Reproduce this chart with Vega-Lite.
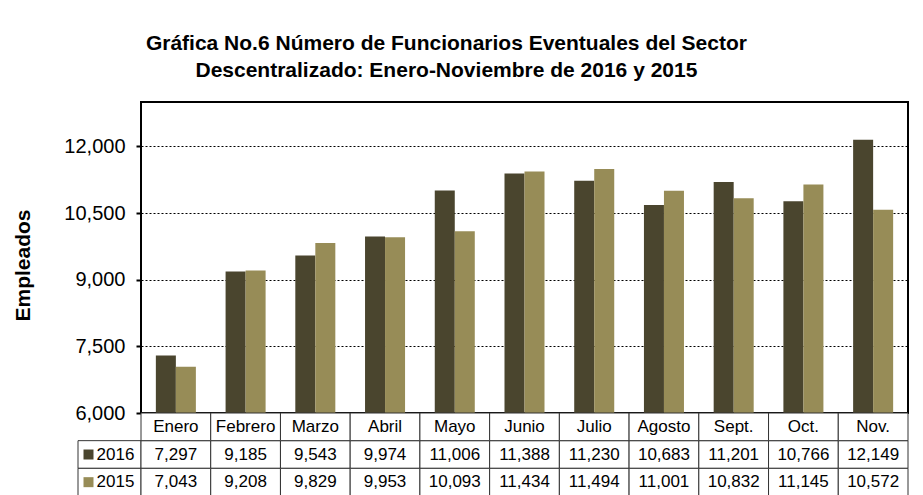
{
  "$schema": "https://vega.github.io/schema/vega-lite/v6.json",
  "padding": {"left": 11, "top": 33, "right": 14, "bottom": 0},
  "background": "white",
  "title": {
    "text": ["Gráfica No.6 Número de Funcionarios Eventuales del Sector", "Descentralizado: Enero-Noviembre de 2016 y 2015"],
    "fontSize": 21, "font": "Liberation Sans", "fontWeight": "bold", "lineHeight": 27,
    "anchor": "middle", "dx": -14, "offset": 20, "color": "black"
  },
  "datasets": {
    "d": [
      {"mes": "Enero", "anio": "2016", "valor": 7297},
      {"mes": "Febrero", "anio": "2016", "valor": 9185},
      {"mes": "Marzo", "anio": "2016", "valor": 9543},
      {"mes": "Abril", "anio": "2016", "valor": 9974},
      {"mes": "Mayo", "anio": "2016", "valor": 11006},
      {"mes": "Junio", "anio": "2016", "valor": 11388},
      {"mes": "Julio", "anio": "2016", "valor": 11230},
      {"mes": "Agosto", "anio": "2016", "valor": 10683},
      {"mes": "Sept.", "anio": "2016", "valor": 11201},
      {"mes": "Oct.", "anio": "2016", "valor": 10766},
      {"mes": "Nov.", "anio": "2016", "valor": 12149},
      {"mes": "Enero", "anio": "2015", "valor": 7043},
      {"mes": "Febrero", "anio": "2015", "valor": 9208},
      {"mes": "Marzo", "anio": "2015", "valor": 9829},
      {"mes": "Abril", "anio": "2015", "valor": 9953},
      {"mes": "Mayo", "anio": "2015", "valor": 10093},
      {"mes": "Junio", "anio": "2015", "valor": 11434},
      {"mes": "Julio", "anio": "2015", "valor": 11494},
      {"mes": "Agosto", "anio": "2015", "valor": 11001},
      {"mes": "Sept.", "anio": "2015", "valor": 10832},
      {"mes": "Oct.", "anio": "2015", "valor": 11145},
      {"mes": "Nov.", "anio": "2015", "valor": 10572}
    ]
  },
  "columns": 2,
  "spacing": 0,
  "bounds": "flush",
  "resolve": {"scale": {"x": "independent", "y": "independent", "color": "shared"}},
  "concat": [
    {
      "width": 63, "height": 311,
      "data": {"values": [{}]},
      "mark": {"type": "text"},
      "encoding": {"text": {"value": ""}}
    },
    {
      "width": 767, "height": 311,
      "data": {"name": "d"},
      "view": {"stroke": "black", "strokeWidth": 2},
      "mark": {"type": "bar", "clip": true},
      "encoding": {
        "x": {"field": "mes", "type": "nominal", "sort": ["Enero","Febrero","Marzo","Abril","Mayo","Junio","Julio","Agosto","Sept.","Oct.","Nov."], "scale": {"paddingInner": 0, "paddingOuter": 0}, "axis": null},
        "xOffset": {"field": "anio", "type": "nominal", "sort": ["2016","2015"], "scale": {"paddingInner": 0, "paddingOuter": 0.7425}},
        "y": {
          "field": "valor", "type": "quantitative",
          "scale": {"domain": [6000, 13000], "zero": false, "nice": false},
          "axis": {
            "values": [6000, 7500, 9000, 10500, 12000], "format": ",.0f",
            "labelFontSize": 20, "labelFont": "Liberation Sans", "labelColor": "black", "labelPadding": 11,
            "tickSize": 5, "tickWidth": 2, "tickColor": "black", "domain": false,
            "grid": true, "gridColor": "black", "gridDash": [2, 2], "gridWidth": 1,
            "title": "Empleados", "titleFontSize": 21, "titleFont": "Liberation Sans", "titleFontWeight": "bold", "titleColor": "black", "titlePadding": 30, "titleY": 163
          }
        },
        "y2": {"datum": 6000},
        "color": {"field": "anio", "type": "nominal", "scale": {"domain": ["2016","2015"], "range": ["#4a452e","#978c57"]}, "legend": null}
      }
    },
    {
      "width": 63, "height": 83,
      "data": {"name": "d"},
      "transform": [{"filter": "datum.mes == 'Enero'"}],
      "encoding": {
        "y": {"field": "anio", "type": "nominal", "scale": {"domain": ["hdr","2016","2015"], "paddingInner": 0, "paddingOuter": 0}, "axis": null},
        "x": {"datum": "leg", "type": "nominal", "scale": {"paddingInner": 0, "paddingOuter": 0}, "axis": null}
      },
      "layer": [
        {"mark": {"type": "rect", "fill": "white", "stroke": "#333333", "strokeWidth": 1}},
        {"mark": {"type": "point", "shape": "square", "filled": true, "size": 100, "xOffset": -21, "opacity": 1},
         "encoding": {"color": {"field": "anio", "type": "nominal", "legend": null}}},
        {"mark": {"type": "text", "fontSize": 17, "font": "Liberation Sans", "dx": 6, "color": "black"},
         "encoding": {"text": {"field": "anio"}}}
      ]
    },
    {
      "width": 767, "height": 83,
      "data": {"name": "d"},
      "encoding": {
        "x": {"field": "mes", "type": "nominal", "sort": ["Enero","Febrero","Marzo","Abril","Mayo","Junio","Julio","Agosto","Sept.","Oct.","Nov."], "scale": {"paddingInner": 0, "paddingOuter": 0}, "axis": null}
      },
      "layer": [
        {"mark": {"type": "rect", "fill": "white", "stroke": "#333333", "strokeWidth": 1},
         "encoding": {"y": {"field": "anio", "type": "nominal", "scale": {"domain": ["hdr","2016","2015"], "paddingInner": 0, "paddingOuter": 0}, "axis": null}}},
        {"transform": [{"filter": "datum.anio == '2016'"}],
         "mark": {"type": "rect", "fill": "white", "stroke": "#333333", "strokeWidth": 1},
         "encoding": {"y": {"datum": "hdr", "type": "nominal"}}},
        {"mark": {"type": "text", "fontSize": 17, "font": "Liberation Sans", "color": "black"},
         "encoding": {"y": {"field": "anio", "type": "nominal"}, "text": {"field": "valor", "type": "quantitative", "format": ","}}},
        {"transform": [{"filter": "datum.anio == '2016'"}],
         "mark": {"type": "text", "fontSize": 17, "font": "Liberation Sans", "color": "black"},
         "encoding": {"y": {"datum": "hdr", "type": "nominal"}, "text": {"field": "mes"}}}
      ]
    }
  ],
  "config": {"view": {"stroke": null}, "font": "Liberation Sans"}
}
